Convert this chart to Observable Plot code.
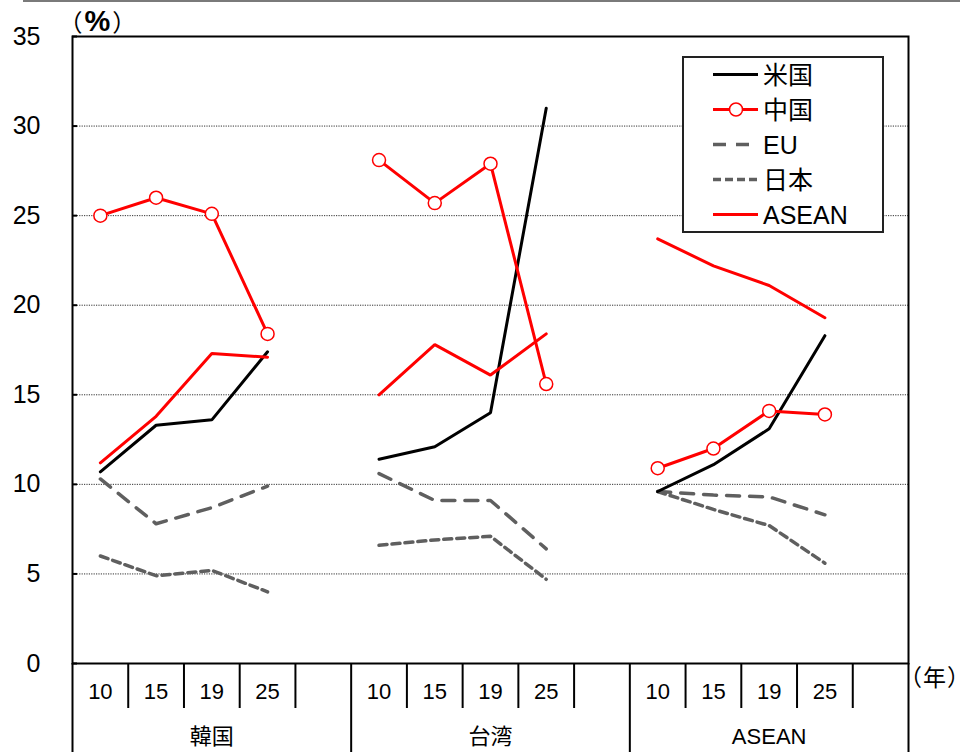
<!DOCTYPE html>
<html>
<head>
<meta charset="utf-8">
<script src="https://cdn.jsdelivr.net/npm/d3@7"></script>
<script src="https://cdn.jsdelivr.net/npm/@observablehq/plot@0.6"></script>
<style>
  html, body { margin: 0; padding: 0; background: #fff; }
  #wrap { position: relative; width: 960px; height: 752px; overflow: hidden; }
  #topline { position: absolute; left: 23px; right: 0; top: 0; height: 2px; background: #7a7a7a; }
  #legend { position: absolute; left: 0; top: 0; }
</style>
</head>
<body>
<div id="wrap">
  <div id="topline"></div>
  <div id="chart"></div>
  <svg id="legend" width="960" height="260"></svg>
</div>
<script>
// Regions shown as groups along the x axis, and the years within each group
const regions = ["韓国", "台湾", "ASEAN"];
const years = ["10", "15", "19", "25"];
const seriesNames = ["米国", "中国", "EU", "日本", "ASEAN"];
const yTicks = [0, 5, 10, 15, 20, 25, 30, 35];
const unitLabel = "（%）";
const yearLabel = "（年）";

// Share (%) by partner, one row per region, one value per year
const usValues    = [[10.7, 13.3, 13.6, 17.4], [11.4, 12.1, 14.0, 31.0], [9.6, 11.1, 13.1, 18.3]];
const chinaValues = [[25.0, 26.0, 25.1, 18.4], [28.1, 25.7, 27.9, 15.6], [10.9, 12.0, 14.1, 13.9]];
const euValues    = [[10.3, 7.8, 8.7, 9.9], [10.6, 9.1, 9.1, 6.4], [9.6, 9.4, 9.3, 8.3]];
const japanValues = [[6.0, 4.9, 5.2, 4.0], [6.6, 6.9, 7.1, 4.7], [9.6, 8.6, 7.7, 5.6]];
const aseanValues = [[11.2, 13.8, 17.3, 17.1], [15.0, 17.8, 16.1, 18.4], [23.7, 22.2, 21.1, 19.3]];

// Each region occupies five slots: four years plus an empty one
const SLOTS = 5;
const rows = [];
regions.forEach((region, g) => {
  years.forEach((year, s) => {
    rows.push({
      region, year,
      pos: g * SLOTS + s + 0.5,
      us: usValues[g][s],
      china: chinaValues[g][s],
      eu: euValues[g][s],
      japan: japanValues[g][s],
      asean: aseanValues[g][s]
    });
  });
});

const yearTicks = rows.map(d => d.pos);
const slotEdges = d3.range(0, regions.length * SLOTS + 1).filter(i => i % SLOTS !== 0);
const groupEdges = d3.range(0, regions.length + 1).map(i => i * SLOTS);
const groupCenters = regions.map((r, g) => g * SLOTS + SLOTS / 2);

const W = 960, H = 752;
const mL = 72, mR = 52, mT = 36, mB = 89;

const RED = "#ff0000";
const GRAY = "#5f5f5f";
const FONT = "'Liberation Sans', Arial, 'Noto Sans CJK JP', sans-serif";

const chart = Plot.plot({
  width: W,
  height: H,
  marginLeft: mL,
  marginRight: mR,
  marginTop: mT,
  marginBottom: mB,
  style: { fontFamily: FONT, color: "#000", background: "transparent", overflow: "visible" },
  x: { type: "linear", domain: [0, regions.length * SLOTS] },
  y: { domain: [0, 35] },
  marks: [
    Plot.gridY([5, 10, 15, 20, 25, 30], { stroke: "#333", strokeOpacity: 1, strokeWidth: 1, strokeDasharray: "1.2,1.2" }),
    // short inward ticks on the value axis
    Plot.tickY(yTicks, { y: d => d, stroke: "#000", strokeWidth: 2, insetRight: W - mL - mR - 5 }),
    Plot.axisY(yTicks, { tickSize: 0, tickPadding: 32, fontSize: 25, label: null }),
    // category rows beneath the plot: year cells and region cells
    Plot.axisX(slotEdges, { tickSize: 45, strokeWidth: 2, stroke: "#000", tickFormat: () => "", label: null }),
    Plot.axisX(groupEdges, { tickSize: 89, strokeWidth: 2, stroke: "#000", tickFormat: () => "", label: null }),
    Plot.axisX(yearTicks, { tickSize: 0, tickPadding: 20, fontSize: 22, tickFormat: d => years[Math.floor(d) % SLOTS], label: null }),
    Plot.axisX(groupCenters, { tickSize: 0, tickPadding: 65, fontSize: 22, tickFormat: d => regions[Math.floor(d / SLOTS)], label: null }),
    Plot.frame({ stroke: "#000", strokeWidth: 2 }),
    Plot.line(rows, { x: "pos", y: "eu", z: "region", stroke: GRAY, strokeWidth: 3.5, strokeDasharray: "13,10" }),
    Plot.line(rows, { x: "pos", y: "japan", z: "region", stroke: GRAY, strokeWidth: 3.5, strokeDasharray: "8,5" }),
    Plot.line(rows, { x: "pos", y: "us", z: "region", stroke: "#000", strokeWidth: 3, strokeLinejoin: "miter" }),
    Plot.line(rows, { x: "pos", y: "asean", z: "region", stroke: RED, strokeWidth: 3, strokeLinejoin: "miter" }),
    Plot.line(rows, { x: "pos", y: "china", z: "region", stroke: RED, strokeWidth: 3 }),
    Plot.dot(rows, { x: "pos", y: "china", r: 6.5, fill: "#fff", stroke: RED, strokeWidth: 1.5 }),
    Plot.text([unitLabel], { frameAnchor: "top-left", dx: -2, dy: -23, textAnchor: "start", fontSize: 24, fill: "#000" }),
    Plot.text([yearLabel], { frameAnchor: "bottom-right", dx: 2, dy: 22, textAnchor: "start", fontSize: 23, fill: "#000" })
  ]
});
document.getElementById("chart").appendChild(chart);

// Half-width brackets keep the unit labels compact; the percent sign is set bold
d3.select(chart).selectAll("text")
  .filter(function () { return this.textContent === unitLabel; })
  .style("font-feature-settings", "'halt'")
  .style("letter-spacing", "2px")
  .each(function () {
    const t = d3.select(this);
    const chars = Array.from(unitLabel);
    t.text(null);
    t.append("tspan").attr("font-family", "'Noto Sans CJK JP', sans-serif").text(chars[0]);
    t.append("tspan").attr("font-family", "'Liberation Sans', Arial, sans-serif")
      .style("font-weight", "bold").style("font-size", "29px").text(chars[1]);
    t.append("tspan").attr("font-family", "'Noto Sans CJK JP', sans-serif").text(chars[2]);
  });
d3.select(chart).selectAll("text")
  .filter(function () { return this.textContent === yearLabel; })
  .style("font-feature-settings", "'halt'")
  .style("letter-spacing", "1px");

// Legend box in the upper right of the plot
const legend = d3.select("#legend");
const styles = [
  { stroke: "#000", dash: null, width: 3, dot: false },
  { stroke: RED, dash: null, width: 3, dot: true },
  { stroke: GRAY, dash: "13,10", width: 3.5, dot: false },
  { stroke: GRAY, dash: "8,4", width: 3.5, dot: false },
  { stroke: RED, dash: null, width: 3, dot: false }
];
legend.append("rect")
  .attr("x", 683).attr("y", 57).attr("width", 200).attr("height", 175)
  .attr("fill", "#fff").attr("stroke", "#222").attr("stroke-width", 2);
seriesNames.forEach((name, i) => {
  const cy = 74.5 + i * 35;
  const st = styles[i];
  legend.append("line")
    .attr("x1", 713).attr("x2", 758).attr("y1", cy).attr("y2", cy)
    .attr("stroke", st.stroke).attr("stroke-width", st.width)
    .attr("stroke-dasharray", st.dash);
  if (st.dot) {
    legend.append("circle").attr("cx", 736).attr("cy", cy).attr("r", 6.5)
      .attr("fill", "#fff").attr("stroke", RED).attr("stroke-width", 1.5);
  }
  legend.append("text")
    .attr("x", 763).attr("y", cy).attr("dy", "0.36em")
    .attr("font-family", FONT).attr("font-size", 25).attr("fill", "#000")
    .text(name);
});
</script>
</body>
</html>
